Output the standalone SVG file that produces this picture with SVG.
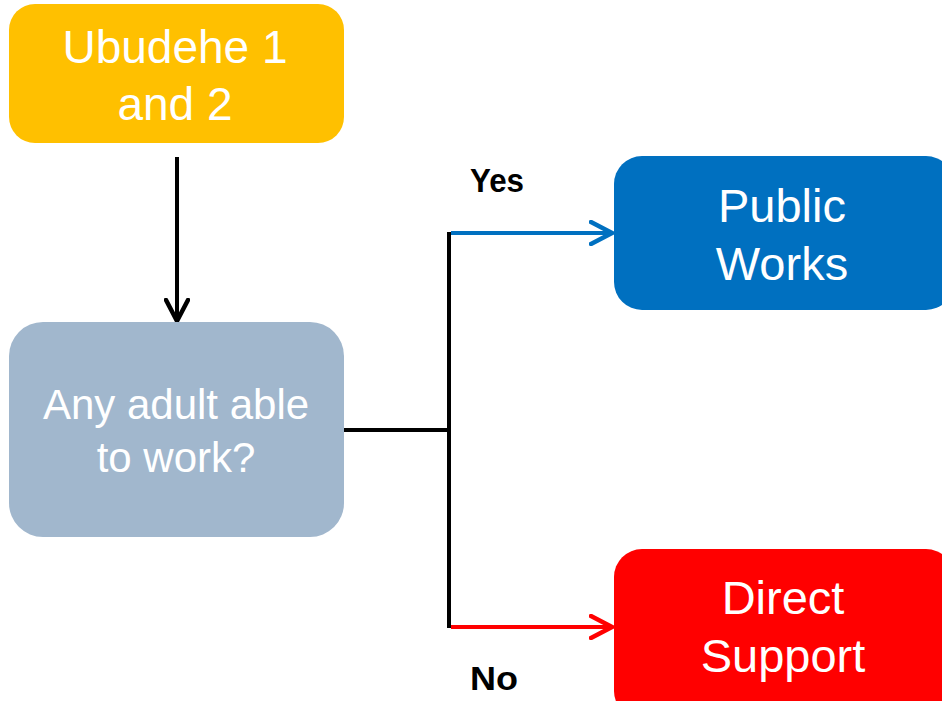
<svg xmlns="http://www.w3.org/2000/svg" width="942" height="701" viewBox="0 0 942 701">
<style>
.lbl{font-family:"Liberation Sans",Arial,sans-serif;fill:#ffffff;text-anchor:middle}
.yn{font-family:"Liberation Sans",Arial,sans-serif;font-weight:bold;fill:#000000}
.ln{fill:none;stroke-width:4;stroke-linecap:butt}
</style>
<defs>
<marker id="ahK" viewBox="0 0 26 26" refX="23" refY="13" markerWidth="26" markerHeight="26" markerUnits="userSpaceOnUse" orient="auto"><path d="M2,2 L23,13 L2,24" fill="none" stroke="#000000" stroke-width="4.5" stroke-linecap="round" stroke-linejoin="miter"/></marker>
<marker id="ahB" viewBox="0 0 26 26" refX="23" refY="13" markerWidth="26" markerHeight="26" markerUnits="userSpaceOnUse" orient="auto"><path d="M2,2 L23,13 L2,24" fill="none" stroke="#0070C0" stroke-width="4.5" stroke-linecap="round" stroke-linejoin="miter"/></marker>
<marker id="ahR" viewBox="0 0 26 26" refX="23" refY="13" markerWidth="26" markerHeight="26" markerUnits="userSpaceOnUse" orient="auto"><path d="M2,2 L23,13 L2,24" fill="none" stroke="#FF0000" stroke-width="4.5" stroke-linecap="round" stroke-linejoin="miter"/></marker>
</defs>
<rect width="942" height="701" fill="#ffffff"/>
<g id="connectors">
<line class="ln" x1="177" y1="157" x2="177" y2="321" stroke="#000000" marker-end="url(#ahK)"/>
<line class="ln" x1="344" y1="430" x2="449" y2="430" stroke="#000000" stroke-width="5"/>
<line class="ln" x1="449" y1="232" x2="449" y2="628" stroke="#000000" stroke-width="5"/>
<line class="ln" x1="451" y1="233" x2="612" y2="233" stroke="#0070C0" marker-end="url(#ahB)"/>
<line class="ln" x1="451" y1="627" x2="612" y2="627" stroke="#FF0000" marker-end="url(#ahR)"/>
<text class="yn" x="470" y="192" font-size="33" textLength="54" lengthAdjust="spacingAndGlyphs">Yes</text>
<text class="yn" x="470" y="690" font-size="34" textLength="48" lengthAdjust="spacingAndGlyphs">No</text>
</g>
<g id="ubudehe">
<rect x="9" y="4" width="335" height="139" rx="26" fill="#FFC000"/>
<text class="lbl" x="175" y="63" font-size="46">Ubudehe 1</text>
<text class="lbl" x="175" y="120" font-size="46">and 2</text>
</g>
<g id="adult">
<rect x="9" y="322" width="335" height="215" rx="34" fill="#A1B7CD"/>
<text class="lbl" x="176" y="419" font-size="42">Any adult able</text>
<text class="lbl" x="176" y="472" font-size="42">to work?</text>
</g>
<g id="public">
<rect x="614" y="156" width="340" height="154" rx="28" fill="#0070C0"/>
<text class="lbl" x="782" y="222" font-size="47">Public</text>
<text class="lbl" x="782" y="280" font-size="47">Works</text>
</g>
<g id="direct">
<rect x="614" y="549" width="340" height="170" rx="28" fill="#FF0000"/>
<text class="lbl" x="783" y="614" font-size="47">Direct</text>
<text class="lbl" x="783" y="672" font-size="47">Support</text>
</g>
</svg>
